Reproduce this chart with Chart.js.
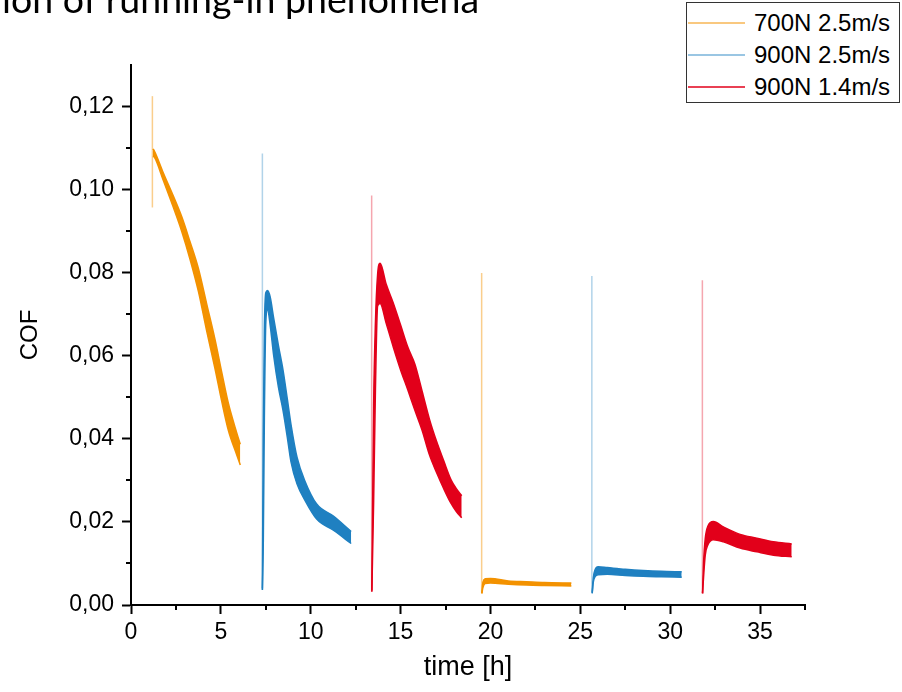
<!DOCTYPE html>
<html>
<head>
<meta charset="utf-8">
<script src="https://cdn.jsdelivr.net/npm/chart.js@4.4.1/dist/chart.umd.min.js"></script>
<style>
  body { margin: 0; background: #fff; }
  #wrap { position: relative; width: 902px; height: 692px; overflow: hidden; }
  #title { position: absolute; left: 2px; top: -20px; font-family: Lato, sans-serif; font-size: 37.5px; line-height: 37px; white-space: nowrap; color: #000; }
  #legend { position: absolute; left: 686px; top: 2px; width: 214px; height: 101px; border: 1px solid #333; box-sizing: border-box; font-family: "Liberation Sans", Arial, sans-serif; font-size: 24px; background: #fff; }
  .row { position: absolute; left: 0; width: 100%; height: 32px; line-height: 32px; }
  .row .ln { position: absolute; left: 1px; top: 15px; width: 57px; height: 2px; }
  .row .tx { position: absolute; left: 67px; top: 0; color: #000; }
</style>
</head>
<body>
<div id="wrap">
  <canvas id="cof"></canvas>
  <div id="title">ion of running-in phenomena</div>
  <div id="legend"></div>
</div>
<script>
const seriesNames = ['700N 2.5m/s', '900N 2.5m/s', '900N 1.4m/s'];

// start-up spikes at the beginning of every run
const spikeTime = [1.19, 7.31, 13.39, 19.51, 25.64, 31.79];
const spikeLow = [0.0957, 0.0036, 0.0032, 0.0028, 0.0028, 0.0028];
const spikeHigh = [0.1225, 0.1087, 0.0986, 0.0799, 0.0792, 0.0782];
const spikeSeries = [0, 1, 2, 0, 1, 2];

// each run: time, max and min of the COF band
const run1Time = [1.22, 1.30, 1.80, 2.35, 2.82, 3.28, 3.75, 4.21, 4.67, 5.05, 5.42, 5.88, 6.08];
const run1Max = [0.1098, 0.1093, 0.1040, 0.0985, 0.0935, 0.0875, 0.0810, 0.0725, 0.0640, 0.0560, 0.0485, 0.0415, 0.0387];
const run1Min = [0.1080, 0.1078, 0.1022, 0.0958, 0.0900, 0.0833, 0.0755, 0.0660, 0.0570, 0.0490, 0.0420, 0.0362, 0.0337];

const run2Time = [7.31, 7.36, 7.42, 7.50, 7.60, 7.74, 7.94, 8.20, 8.46, 8.70, 8.90, 9.24, 9.68, 10.33, 11.26, 12.25];
const run2Max = [0.0040, 0.0400, 0.0660, 0.0752, 0.0757, 0.0742, 0.0690, 0.0625, 0.0565, 0.0495, 0.0435, 0.0355, 0.0298, 0.0243, 0.0214, 0.0177];
const run2Min = [0.0036, 0.0150, 0.0450, 0.0680, 0.0712, 0.0675, 0.0600, 0.0525, 0.0468, 0.0403, 0.0345, 0.0291, 0.0252, 0.0207, 0.0180, 0.0148];

const run3Time = [13.40, 13.50, 13.60, 13.72, 13.86, 14.2, 14.6, 15.0, 15.4, 15.8, 16.2, 16.6, 17.0, 17.4, 17.8, 18.1, 18.4];
const run3Max = [0.0035, 0.0480, 0.0680, 0.0795, 0.0823, 0.0772, 0.0726, 0.0674, 0.0621, 0.0579, 0.0514, 0.0448, 0.0394, 0.0347, 0.0302, 0.0280, 0.0263];
const run3Min = [0.0032, 0.0250, 0.0520, 0.0720, 0.0726, 0.0678, 0.0620, 0.0566, 0.0518, 0.0468, 0.0420, 0.0362, 0.0319, 0.0280, 0.0245, 0.0225, 0.0210];

const run4Time = [19.52, 19.58, 19.70, 20.0, 21.0, 22.0, 23.0, 24.5];
const run4Max = [0.0028, 0.0055, 0.0063, 0.0064, 0.0058, 0.0056, 0.0054, 0.0053];
const run4Min = [0.0028, 0.0042, 0.0052, 0.0053, 0.0050, 0.0048, 0.0047, 0.0046];

const run5Time = [25.66, 25.72, 25.82, 26.0, 26.5, 27.5, 28.5, 29.5, 30.64];
const run5Max = [0.0030, 0.0065, 0.0085, 0.0092, 0.0090, 0.0086, 0.0083, 0.0081, 0.0080];
const run5Min = [0.0028, 0.0055, 0.0068, 0.0073, 0.0074, 0.0071, 0.0069, 0.0068, 0.0067];

const run6Time = [31.80, 31.86, 31.95, 32.10, 32.40, 32.96, 33.89, 34.82, 35.74, 36.76];
const run6Max = [0.0028, 0.0105, 0.0160, 0.0190, 0.0201, 0.0188, 0.0170, 0.0161, 0.0152, 0.0147];
const run6Min = [0.0028, 0.0070, 0.0120, 0.0145, 0.0157, 0.0152, 0.0137, 0.0128, 0.0120, 0.0116];
const runSeries = [0, 1, 2, 0, 1, 2];

const xTicks = [0, 5, 10, 15, 20, 25, 30, 35];
const xMinor = [2.5, 7.5, 12.5, 17.5, 22.5, 27.5, 32.5, 37.5];
const yTicks = [0, 0.02, 0.04, 0.06, 0.08, 0.10, 0.12];
const yMinor = [0.01, 0.03, 0.05, 0.07, 0.09, 0.11];

const colors = ['rgb(243,146,0)', 'rgb(31,128,193)', 'rgb(226,0,26)'];
const lightColors = ['rgba(243,146,0,0.45)', 'rgba(31,128,193,0.35)', 'rgba(226,0,26,0.35)'];
const legendColors = ['rgba(243,146,0,0.5)', 'rgba(31,128,193,0.45)', 'rgba(226,0,26,0.75)'];

const runs = [
  [run1Time, run1Max, run1Min],
  [run2Time, run2Max, run2Min],
  [run3Time, run3Max, run3Min],
  [run4Time, run4Max, run4Min],
  [run5Time, run5Max, run5Min],
  [run6Time, run6Max, run6Min]
];

const datasets = [];
runs.forEach(([t, hi, lo], i) => {
  const c = colors[runSeries[i]];
  datasets.push({
    data: t.map((x, k) => ({ x: x, y: hi[k] })),
    borderColor: c, borderWidth: 1.5, pointRadius: 0, fill: false,
    cubicInterpolationMode: 'monotone'
  });
  datasets.push({
    data: t.map((x, k) => ({ x: x, y: lo[k] })),
    borderColor: c, backgroundColor: c, borderWidth: 1.5, pointRadius: 0, fill: '-1',
    cubicInterpolationMode: 'monotone'
  });
});
// spikes go last so they sit behind the bands
spikeTime.forEach((x, i) => {
  datasets.push({
    data: [{ x: x, y: spikeLow[i] }, { x: x, y: spikeHigh[i] }],
    borderColor: lightColors[spikeSeries[i]], borderWidth: 1.5, pointRadius: 0, fill: false
  });
});

// small ticks between the labelled ones
const minorTicks = {
  id: 'minorTicks',
  afterDraw(chart) {
    const { ctx, scales: { x, y } } = chart;
    ctx.save();
    ctx.strokeStyle = '#000';
    ctx.lineWidth = 2;
    ctx.beginPath();
    xMinor.forEach(v => {
      const px = Math.round(x.getPixelForValue(v));
      ctx.moveTo(px, y.bottom);
      ctx.lineTo(px, y.bottom + 5);
    });
    yMinor.forEach(v => {
      const py = Math.round(y.getPixelForValue(v));
      ctx.moveTo(x.left, py);
      ctx.lineTo(x.left - 5, py);
    });
    ctx.stroke();
    ctx.restore();
  }
};

const axisFont = { family: '"Liberation Sans", Arial, sans-serif', size: 23 };

new Chart(document.getElementById('cof').getContext('2d'), {
  type: 'line',
  data: { datasets: datasets },
  options: {
    responsive: true,
    maintainAspectRatio: false,
    animation: false,
    layout: { padding: { left: 0, top: 65, right: 97, bottom: 0 } },
    plugins: {
      legend: { display: false },
      tooltip: { enabled: false }
    },
    scales: {
      x: {
        type: 'linear',
        min: 0,
        max: 37.5,
        afterBuildTicks: s => { s.ticks = xTicks.map(v => ({ value: v })); },
        afterFit: s => { s.height = 87; },
        grid: { drawOnChartArea: false, drawTicks: true, tickLength: 9, tickWidth: 2, tickColor: '#000' },
        border: { display: true, color: '#000', width: 2 },
        ticks: { color: '#000', font: axisFont, padding: 5, autoSkip: false, maxRotation: 0, callback: v => String(v) },
        title: { display: true, text: 'time [h]', color: '#000', font: { family: axisFont.family, size: 27 }, padding: { top: 8, bottom: 8 } }
      },
      y: {
        type: 'linear',
        min: 0,
        max: 0.13,
        afterBuildTicks: s => { s.ticks = yTicks.map(v => ({ value: v })); },
        afterFit: s => { s.width = 131; },
        grid: { drawOnChartArea: false, drawTicks: true, tickLength: 9, tickWidth: 2, tickColor: '#000' },
        border: { display: true, color: '#000', width: 2 },
        ticks: { color: '#000', font: axisFont, padding: 8, callback: v => v.toFixed(2).replace('.', ',') },
        title: { display: true, text: 'COF', color: '#000', font: { family: axisFont.family, size: 24 }, padding: { top: 16, bottom: 0 } }
      }
    }
  },
  plugins: [minorTicks]
});

// legend box in the top right corner
const legend = document.getElementById('legend');
seriesNames.forEach((name, i) => {
  const row = document.createElement('div');
  row.className = 'row';
  row.style.top = (4 + i * 32) + 'px';
  const ln = document.createElement('span');
  ln.className = 'ln';
  ln.style.background = legendColors[i];
  const tx = document.createElement('span');
  tx.className = 'tx';
  tx.textContent = name;
  row.appendChild(ln);
  row.appendChild(tx);
  legend.appendChild(row);
});
</script>
</body>
</html>
